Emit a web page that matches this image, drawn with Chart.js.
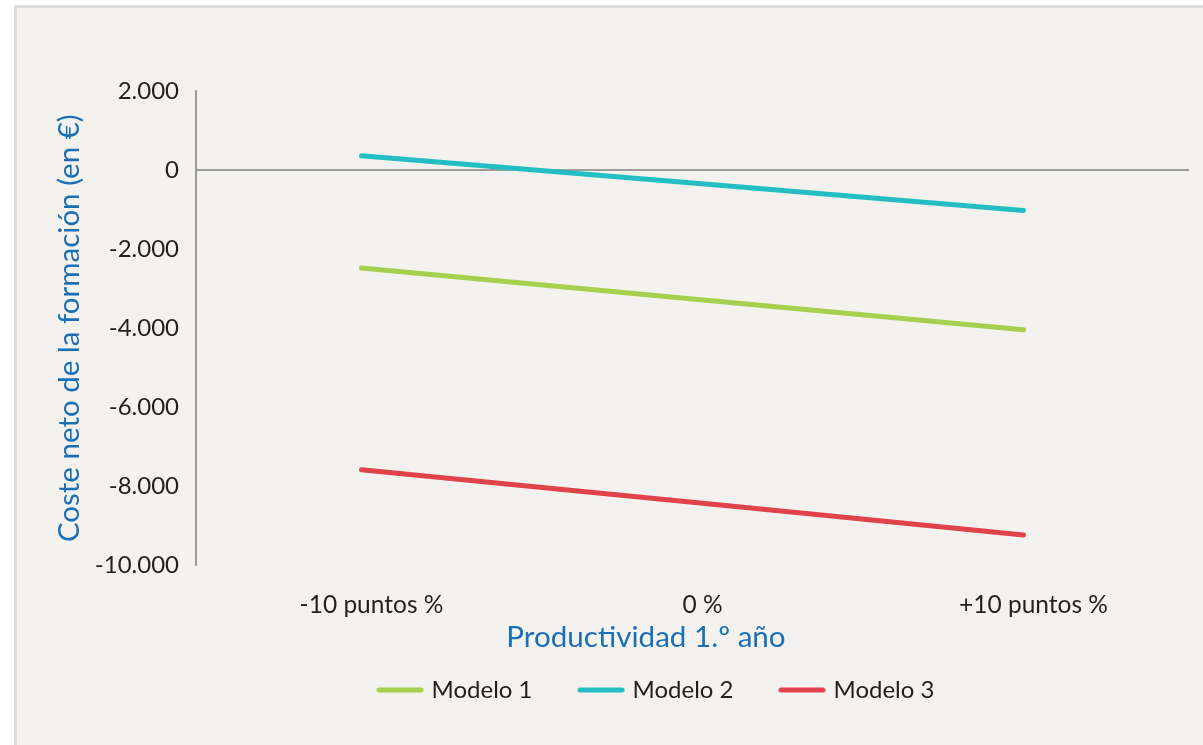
<!DOCTYPE html>
<html><head><meta charset="utf-8">
<script src="https://cdn.jsdelivr.net/npm/chart.js@4"></script>
<style>
html,body{margin:0;padding:0;background:#fff;overflow:hidden;width:1203px;height:745px;}
#frame{position:absolute;left:14px;top:5px;width:1400px;height:900px;border:3px solid #dedede;background:#f3f2ee;}
#c{position:absolute;left:17px;top:8px;width:1258px;height:737px;}
</style></head><body>
<div id="frame"></div>
<canvas id="c" width="1258" height="737"></canvas>
<script>
const categories = ['-10 puntos %', '0 %', '+10 puntos %'];
const seriesNames = ['Modelo 1', 'Modelo 2', 'Modelo 3'];
const modelo1 = [-2480, -3260, -4040];
const modelo2 = [360, -330, -1020];
const modelo3 = [-7580, -8400, -9230];
const seriesColors = ['#a5cf4c', '#22bec2', '#e0434a'];
const yMin = -10000, yMax = 2000, yStep = 2000;
const yTitle = 'Coste neto de la formación (en €)';
const xTitle = 'Productividad 1.º año';

Chart.defaults.font.family = 'Lato';
const textColor = '#231f20';
const blue = '#1b6fb6';
const axisGray = '#9c9c9c';

function makeSwatch(color) {
  const c = document.createElement('canvas');
  c.width = 140; c.height = 10;
  const g = c.getContext('2d');
  g.strokeStyle = color; g.lineWidth = 5; g.lineCap = 'round';
  g.beginPath(); g.moveTo(60.5, 5); g.lineTo(102.5, 5); g.stroke();
  return c;
}
const swatches = seriesColors.map(makeSwatch);

const seriesData = [modelo1, modelo2, modelo3];
const datasets = seriesNames.map((n, i) => ({
  label: n,
  data: seriesData[i],
  borderColor: seriesColors[i],
  backgroundColor: seriesColors[i],
  borderWidth: 5,
  borderCapStyle: 'round',
  borderJoinStyle: 'round',
  pointRadius: 0,
  pointHoverRadius: 0,
  tension: 0,
  fill: false
}));

const fmt = v => {
  const s = Math.abs(v).toString().replace(/\B(?=(\d{3})+(?!\d))/g, '.');
  return (v < 0 ? '-' : '') + s;
};

new Chart(document.getElementById('c'), {
  type: 'line',
  data: { labels: categories, datasets },
  options: {
    responsive: false,
    animation: false,
    devicePixelRatio: 1,
    layout: { padding: { top: 83, bottom: 33, left: 0, right: 0 } },
    plugins: {
      tooltip: { enabled: false },
      legend: {
        position: 'bottom',
        title: {
          display: true,
          text: xTitle,
          color: blue,
          font: { family: 'Lato', size: 29.6, lineHeight: 1.0 },
          padding: { top: 0, bottom: 0 },
          position: 'center'
        },
        labels: {
          color: textColor,
          font: { family: 'Lato', size: 24 },
          usePointStyle: true,
          pointStyleWidth: 62,
          padding: 26,
          generateLabels: (chart) => {
            const items = Chart.defaults.plugins.legend.labels.generateLabels(chart);
            items.forEach((it, i) => { it.pointStyle = swatches[i]; });
            return items;
          }
        }
      }
    },
    scales: {
      x: {
        type: 'category',
        offset: true,
        afterFit: s => { s.height = 57; },
        grid: { display: false, drawTicks: false },
        border: { display: false },
        ticks: { color: textColor, font: { family: 'Lato', size: 24.5 }, padding: 25, labelOffset: 10, maxRotation: 0 }
      },
      y: {
        type: 'linear',
        position: 'left',
        min: yMin, max: yMax,
        afterFit: s => { s.width = 179; },
        ticks: { stepSize: yStep, color: textColor, font: { family: 'Lato', size: 24 }, padding: 17, callback: v => fmt(v) },
        grid: {
          drawTicks: false,
          lineWidth: 2,
          color: ctx => (ctx.tick && ctx.tick.value === 0) ? axisGray : 'rgba(0,0,0,0)'
        },
        border: { display: true, color: axisGray, width: 2 },
        title: {
          display: true, text: yTitle, color: blue,
          font: { family: 'Lato', size: 29.5 },
          padding: { top: 35, bottom: 0 }
        }
      },
      yR: {
        type: 'linear',
        position: 'right',
        display: true,
        afterFit: s => { s.width = 86; },
        grid: { display: false },
        border: { display: false },
        ticks: { display: false }
      }
    }
  }
});
</script>
</body></html>
